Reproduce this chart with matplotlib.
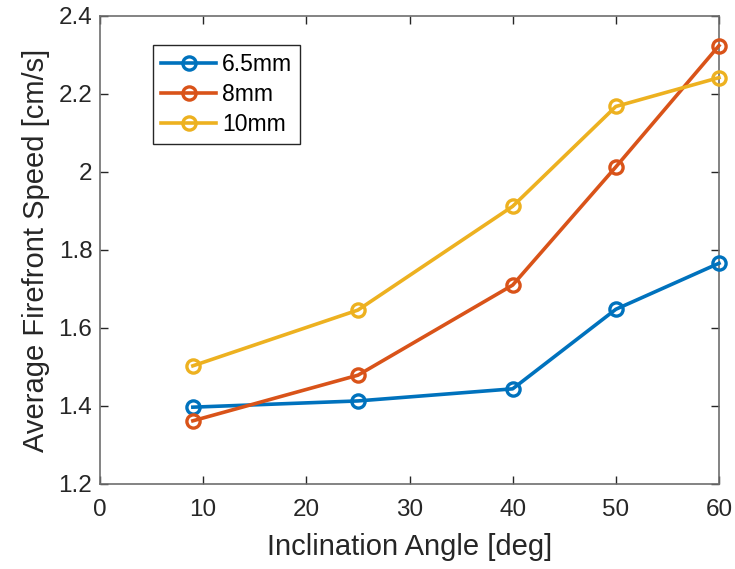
import numpy as np
from matplotlib import pyplot as plt

# inclination angles [deg]
angles = [9, 25, 40, 50, 60]

# average firefront speed [cm/s]
speed_65mm = [1.397, 1.413, 1.444, 1.648, 1.766]
speed_8mm = [1.362, 1.479, 1.710, 2.013, 2.324]
speed_10mm = [1.503, 1.646, 1.912, 2.168, 2.242]

series_labels = ['6.5mm', '8mm', '10mm']
xticks = [0, 10, 20, 30, 40, 50, 60]
yticks = [1.2, 1.4, 1.6, 1.8, 2.0, 2.2, 2.4]
ytick_labels = ['1.2', '1.4', '1.6', '1.8', '2', '2.2', '2.4']


def main():
    plt.rcParams['font.family'] = ['Liberation Sans', 'DejaVu Sans']
    fig = plt.figure(figsize=(7.35, 5.69), dpi=100)
    ax = fig.add_axes([100 / 735, 1 - 484 / 569, 619 / 735, 468 / 569])

    colors = ['#0072BD', '#D95319', '#EDB120']
    for ys, lab, c in zip([speed_65mm, speed_8mm, speed_10mm], series_labels, colors):
        ax.plot(angles, ys, '-o', color=c, lw=2.6, ms=9.5, mfc='none', mew=2.4,
                label=lab, clip_on=False, zorder=3)

    ax.set_xlim(0, 60)
    ax.set_ylim(1.2, 2.4)
    ax.set_xticks(xticks)
    ax.set_yticks(yticks)
    ax.set_yticklabels(ytick_labels)
    ax.tick_params(direction='in', length=6, width=1, color='#262626',
                   labelcolor='#262626', labelsize=17.5, top=True, right=True)
    ax.tick_params(axis='x', pad=10.5)
    ax.tick_params(axis='y', pad=5.5)
    for sp in ax.spines.values():
        sp.set_color('#6e6e6e')
        sp.set_linewidth(1.2)

    ax.set_xlabel('Inclination Angle [deg]', fontsize=21, color='#262626', labelpad=9)
    ax.set_ylabel('Average Firefront Speed [cm/s]', fontsize=21, color='#262626', labelpad=6)

    leg = ax.legend(loc='upper left', bbox_to_anchor=(53 / 619, 1 - 29 / 468), fontsize=16.5,
                    fancybox=False, edgecolor='#262626', framealpha=1,
                    handlelength=2.4, borderpad=0.35, labelspacing=0.3, handletextpad=0.25,
                    borderaxespad=0)
    leg.get_frame().set_linewidth(1)

    plt.savefig('out.png', dpi=100)


if __name__ == "__main__":
    main()
